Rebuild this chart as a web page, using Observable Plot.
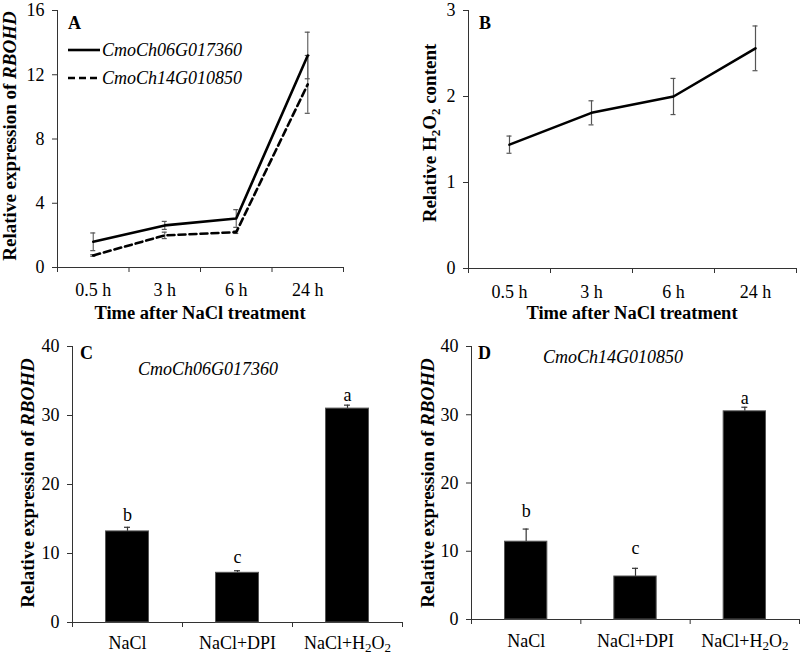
<!DOCTYPE html>
<html><head><meta charset="utf-8">
<script src="https://cdn.jsdelivr.net/npm/d3@7"></script>
<script src="https://cdn.jsdelivr.net/npm/@observablehq/plot@0.6"></script>
<style>
body{margin:0;background:#fff;}
#fig{position:relative;width:800px;height:656px;font-family:"Liberation Serif","Times New Roman",serif;}
#fig > svg{position:absolute;}
</style></head><body><div id="fig"></div>
<script>
// ---- data ----
const timePoints = ["0.5 h", "3 h", "6 h", "24 h"];
const geneNames = ["CmoCh06G017360", "CmoCh14G010850"];
const exprGene1 = [1.6, 2.62, 3.05, 13.2];
const errGene1 = [0.55, 0.25, 0.55, 1.45];
const exprGene2 = [0.75, 2.0, 2.2, 11.4];
const errGene2 = [0.05, 0.2, 0.08, 1.8];
const h2o2Content = [1.44, 1.81, 2.0, 2.56];
const h2o2Err = [0.1, 0.14, 0.21, 0.26];
const treatments = ["NaCl", "NaCl+DPI", "NaCl+H2O2"];
const exprC = [13.2, 7.2, 31.0];
const errC = [0.6, 0.3, 0.5];
const lettersC = ["b", "c", "a"];
const letterPosC = [15.5, 9.4, 33.0];
const exprD = [11.4, 6.3, 30.5];
const errD = [1.85, 1.2, 0.6];
const lettersD = ["b", "c", "a"];
const letterPosD = [15.9, 10.4, 32.4];
const ticksA = [0, 4, 8, 12, 16];
const ticksB = [0, 1, 2, 3];
const ticksCD = [0, 10, 20, 30, 40];

const FONT = '"Liberation Serif","Times New Roman",serif';
const fig = document.getElementById("fig");

function panel({width, height, ml, mr, mt, mb, ymax, yticks, cats, xPad, marks}) {
  const idx = cats.map((_, i) => i);
  const bounds = d3.range(cats.length + 1).map(i => i - 0.5);
  return Plot.plot({
    width, height, marginLeft: ml, marginRight: mr, marginTop: mt, marginBottom: mb,
    style: {fontFamily: FONT, fontSize: "18px", color: "#000", background: "transparent", overflow: "visible"},
    x: {type: "linear", domain: [-0.5, cats.length - 0.5]},
    y: {domain: [0, ymax]},
    marks: [
      Plot.axisY({ticks: yticks, tickSize: 5, tickPadding: 8, tickFormat: d => String(d), label: null, stroke: "#333", fontSize: 18}),
      Plot.axisX({ticks: bounds, tickSize: 5, tickFormat: () => "", label: null, stroke: "#333"}),
      Plot.axisX({ticks: idx, tickSize: 0, tickPadding: xPad, tickFormat: i => cats[i], label: null, fontSize: 18}),
      Plot.ruleY([0], {stroke: "#333"}),
      Plot.ruleX([-0.5], {stroke: "#333"}),
      ...marks
    ]
  });
}

function place(svg, left, top) {
  svg.style.left = left + "px";
  svg.style.top = top + "px";
  fig.appendChild(svg);
  return d3.select(svg);
}

function addText(sel, x, y, html, opts = {}) {
  const t = sel.append("text")
    .attr("x", x).attr("y", y)
    .attr("font-family", FONT)
    .attr("font-size", opts.size || 18)
    .attr("font-weight", opts.bold ? "bold" : "normal")
    .attr("font-style", opts.italic ? "italic" : "normal")
    .attr("text-anchor", opts.anchor || "start")
    .attr("fill", "#000");
  if (opts.rotate) t.attr("transform", `rotate(-90 ${x} ${y})`);
  t.html(html);
  return t;
}

function subH2O2(sel) {
  sel.selectAll("text").filter(function() { return this.textContent === "NaCl+H2O2"; })
    .html('NaCl+H<tspan dy="3" font-size="13">2</tspan><tspan dy="-3">O</tspan><tspan dy="3" font-size="13">2</tspan>');
}

// ---- Panel A ----
const dataA = timePoints.flatMap((t, i) => [
  {i, gene: geneNames[0], v: exprGene1[i], e: errGene1[i]},
  {i, gene: geneNames[1], v: exprGene2[i], e: errGene2[i]}
]);
const g1 = dataA.filter(d => d.gene === geneNames[0]);
const g2 = dataA.filter(d => d.gene === geneNames[1]);
const svgA = panel({
  width: 400, height: 330, ml: 57, mr: 57, mt: 10, mb: 63, ymax: 16, yticks: ticksA, cats: timePoints, xPad: 16,
  marks: [
    Plot.ruleX(dataA, {x: "i", y1: d => d.v - d.e, y2: d => d.v + d.e, stroke: "#666", strokeWidth: 1.2}),
    Plot.ruleY(dataA, {x1: "i", x2: "i", y: d => d.v + d.e, insetLeft: -2.5, insetRight: -2.5, stroke: "#555", strokeWidth: 1.2}),
    Plot.ruleY(dataA, {x1: "i", x2: "i", y: d => d.v - d.e, insetLeft: -2.5, insetRight: -2.5, stroke: "#555", strokeWidth: 1.2}),
    Plot.line(g1, {x: "i", y: "v", stroke: "#000", strokeWidth: 2.6}),
    Plot.line(g2, {x: "i", y: "v", stroke: "#000", strokeWidth: 2.6, strokeDasharray: "7,4"})
  ]
});
const A = place(svgA, 0, 0);
addText(A, 16, 136, 'Relative expression of <tspan font-style="italic">RBOHD</tspan>', {bold: true, rotate: true, anchor: "middle", size: 19});
addText(A, 200, 319, "Time after NaCl treatment", {bold: true, anchor: "middle", size: 18.5});
addText(A, 68, 29, "A", {bold: true});
A.append("line").attr("x1", 68).attr("x2", 100).attr("y1", 50).attr("y2", 50).attr("stroke", "#000").attr("stroke-width", 2.6);
A.append("line").attr("x1", 68).attr("x2", 100).attr("y1", 78).attr("y2", 78).attr("stroke", "#000").attr("stroke-width", 2.6).attr("stroke-dasharray", "7,4");
addText(A, 102, 56, geneNames[0], {italic: true});
addText(A, 102, 84, geneNames[1], {italic: true});

// ---- Panel B ----
const dataB = timePoints.map((t, i) => ({i, v: h2o2Content[i], e: h2o2Err[i]}));
const svgB = panel({
  width: 400, height: 330, ml: 68, mr: 4, mt: 10, mb: 62, ymax: 3, yticks: ticksB, cats: timePoints, xPad: 17,
  marks: [
    Plot.ruleX(dataB, {x: "i", y1: d => d.v - d.e, y2: d => d.v + d.e, stroke: "#555", strokeWidth: 1.2}),
    Plot.ruleY(dataB, {x1: "i", x2: "i", y: d => d.v + d.e, insetLeft: -2.5, insetRight: -2.5, stroke: "#555", strokeWidth: 1.2}),
    Plot.ruleY(dataB, {x1: "i", x2: "i", y: d => d.v - d.e, insetLeft: -2.5, insetRight: -2.5, stroke: "#555", strokeWidth: 1.2}),
    Plot.line(dataB, {x: "i", y: "v", stroke: "#000", strokeWidth: 2.6})
  ]
});
const B = place(svgB, 400, 0);
addText(B, 36, 133, 'Relative H<tspan dy="4" font-size="13">2</tspan><tspan dy="-4">O</tspan><tspan dy="4" font-size="13">2</tspan><tspan dy="-4"> content</tspan>', {bold: true, rotate: true, anchor: "middle", size: 19});
addText(B, 232, 319, "Time after NaCl treatment", {bold: true, anchor: "middle", size: 18.5});
addText(B, 79, 29, "B", {bold: true});

// ---- Panels C & D ----
function barPanel(vals, errs, letters, letterPos, ml, mb, width, xPad) {
  const data = treatments.map((t, i) => ({i, v: vals[i], e: errs[i], l: letters[i], ly: letterPos[i]}));
  return panel({
    width, height: 326, ml, mr: 1, mt: 16, mb, ymax: 40, yticks: ticksCD, cats: treatments, xPad,
    marks: [
      Plot.ruleX(data, {x: "i", y1: "v", y2: d => d.v + d.e, stroke: "#333", strokeWidth: 1.2}),
      Plot.ruleY(data, {x1: "i", x2: "i", y: d => d.v + d.e, insetLeft: -3, insetRight: -3, stroke: "#333", strokeWidth: 1.2}),
      Plot.rectY(data, {x1: d => d.i - 0.5, x2: d => d.i + 0.5, y: "v", insetLeft: 33.5, insetRight: 33.5, fill: "#000", stroke: "#555", strokeWidth: 1}),
      Plot.text(data, {x: "i", y: "ly", text: "l", fontSize: 18, lineAnchor: "middle", fill: "#000"})
    ]
  });
}
const svgC = barPanel(exprC, errC, lettersC, letterPosC, 72, 34, 403, 14);
const C = place(svgC, 0, 330);
subH2O2(C);
addText(C, 34, 153, 'Relative expression of <tspan font-style="italic">RBOHD</tspan>', {bold: true, rotate: true, anchor: "middle", size: 19});
addText(C, 80, 29, "C", {bold: true});
addText(C, 208, 45, geneNames[0], {italic: true, anchor: "middle"});

const svgD = barPanel(exprD, errD, lettersD, letterPosD, 71, 37, 400, 15);
const D = place(svgD, 400, 330);
subH2O2(D);
addText(D, 34, 153, 'Relative expression of <tspan font-style="italic">RBOHD</tspan>', {bold: true, rotate: true, anchor: "middle", size: 19});
addText(D, 78, 29, "D", {bold: true});
addText(D, 213, 33, geneNames[1], {italic: true, anchor: "middle"});
</script></body></html>
